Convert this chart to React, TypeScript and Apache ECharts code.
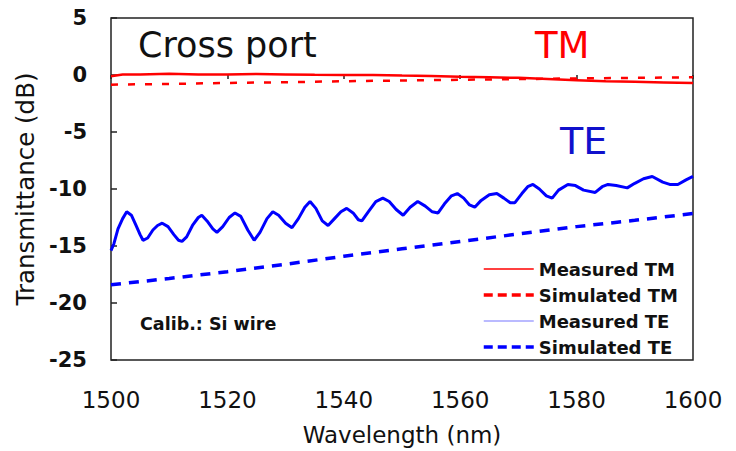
import React, { useEffect, useRef } from "react";
import * as echarts from "echarts";

// Wavelength (nm), Transmittance (dB)
const tmMeasured: [number, number][] = [
  [1500, -0.1], [1502, 0.05], [1505, 0.05], [1510, 0.1], [1515, 0.05], [1520, 0.05],
  [1525, 0.08], [1530, 0.05], [1535, 0.02], [1540, 0.0], [1545, 0.0], [1550, -0.05],
  [1555, -0.08], [1560, -0.15], [1565, -0.2], [1570, -0.25], [1575, -0.35], [1580, -0.45],
  [1585, -0.55], [1590, -0.6], [1595, -0.65], [1600, -0.7],
];

const tmSimulated: [number, number][] = [
  [1500, -0.85], [1510, -0.78], [1520, -0.7], [1530, -0.63], [1540, -0.55], [1550, -0.48],
  [1560, -0.42], [1570, -0.36], [1580, -0.3], [1590, -0.25], [1600, -0.2],
];

const teMeasured: [number, number][] = [
  [1500.0, -15.4], [1500.5, -14.8], [1501.2, -13.5], [1502.0, -12.6], [1502.7, -12.0],
  [1503.5, -12.3], [1504.3, -13.2], [1505.0, -14.0], [1505.5, -14.5], [1506.3, -14.3],
  [1507.2, -13.6], [1508.0, -13.2], [1508.8, -13.0], [1509.8, -13.3], [1510.8, -14.0],
  [1511.6, -14.5], [1512.2, -14.6], [1513.0, -14.2], [1514.0, -13.2], [1515.0, -12.5],
  [1515.6, -12.3], [1516.5, -12.8], [1517.5, -13.5], [1518.2, -13.8], [1519.2, -13.3],
  [1520.3, -12.5], [1521.3, -12.1], [1522.3, -12.4], [1523.5, -13.6], [1524.6, -14.5],
  [1525.6, -13.8], [1526.8, -12.6], [1527.8, -12.0], [1528.8, -12.3], [1530.0, -13.0],
  [1531.1, -13.4], [1532.2, -12.6], [1533.3, -11.6], [1534.2, -11.1], [1535.2, -11.7],
  [1536.3, -12.8], [1537.3, -13.2], [1538.4, -12.6], [1539.5, -12.0], [1540.5, -11.7],
  [1541.6, -12.1], [1542.5, -12.7], [1543.1, -12.8], [1544.2, -12.0], [1545.5, -11.1],
  [1546.7, -10.8], [1547.8, -11.1], [1549.0, -11.8], [1550.2, -12.3], [1551.4, -11.6],
  [1552.7, -11.1], [1554.0, -11.5], [1555.2, -12.0], [1556.2, -12.1], [1557.3, -11.3],
  [1558.5, -10.6], [1559.5, -10.4], [1560.6, -10.8], [1561.6, -11.4], [1562.5, -11.6],
  [1563.6, -11.0], [1565.0, -10.5], [1566.3, -10.4], [1567.5, -10.8], [1568.6, -11.2],
  [1569.4, -11.2], [1570.6, -10.4], [1571.6, -9.8], [1572.5, -9.6], [1573.6, -10.0],
  [1574.8, -10.6], [1575.8, -10.8], [1576.9, -10.1], [1578.5, -9.6], [1579.8, -9.7],
  [1581.2, -10.1], [1583.2, -10.3], [1584.4, -9.8], [1585.4, -9.6], [1586.8, -9.7],
  [1588.7, -9.9], [1590.0, -9.5], [1591.5, -9.1], [1593.0, -8.9], [1594.8, -9.4],
  [1596.0, -9.6], [1597.4, -9.6], [1598.8, -9.2], [1600.0, -8.9],
];

const teSimulated: [number, number][] = [
  [1500, -18.4], [1510, -17.85], [1520, -17.25], [1530, -16.6], [1540, -15.9], [1550, -15.25],
  [1560, -14.6], [1570, -13.95], [1580, -13.3], [1590, -12.75], [1600, -12.15],
];

const seriesNames = ["Measured TM", "Simulated TM", "Measured TE", "Simulated TE"];
const xTicks = { min: 1500, max: 1600, interval: 20 };
const yTicks = { min: -25, max: 5, interval: 5 };

const FONT = "DejaVu Sans";

export default function App() {
  const ref = useRef<HTMLDivElement>(null);
  useEffect(() => {
    if (!ref.current) return;
    const chart = echarts.init(ref.current, undefined, { renderer: "svg" });
    const hidden = { opacity: 0, borderWidth: 0 };
    chart.setOption({
      animation: false,
      backgroundColor: "#ffffff",
      grid: {
        left: 111,
        right: 43,
        top: 18,
        bottom: 91,
        show: true,
        borderColor: "#222",
        borderWidth: 1.5,
      },
      xAxis: {
        type: "value",
        min: xTicks.min,
        max: xTicks.max,
        interval: xTicks.interval,
        name: "Wavelength (nm)",
        nameLocation: "middle",
        nameGap: 63,
        nameTextStyle: { fontFamily: FONT, fontSize: 23, color: "#111" },
        axisLine: { show: false },
        axisTick: { show: true, inside: false, length: 4, lineStyle: { color: "#222", width: 1.5 } },
        axisLabel: { fontFamily: FONT, fontSize: 23, color: "#111", margin: 28, formatter: (v: number) => String(v) },
        splitLine: { show: false },
      },
      yAxis: {
        type: "value",
        min: yTicks.min,
        max: yTicks.max,
        interval: yTicks.interval,
        name: "Transmittance (dB)",
        nameLocation: "middle",
        nameGap: 55,
        nameTextStyle: { fontFamily: FONT, fontSize: 24.5, color: "#111" },
        axisLine: { show: false },
        axisTick: { show: true, inside: true, length: 6, lineStyle: { color: "#222", width: 1.5 } },
        axisLabel: { fontFamily: FONT, fontSize: 21, fontWeight: "bold", color: "#111", margin: 24 },
        splitLine: { show: false },
      },
      legend: {
        orient: "vertical",
        left: 477,
        top: 254,
        itemWidth: 50,
        itemHeight: 14,
        itemGap: 6,
        selectedMode: false,
        textStyle: { fontFamily: FONT, fontSize: 18, fontWeight: "bold", color: "#111", lineHeight: 20 },
        data: [
          { name: seriesNames[0], itemStyle: hidden, lineStyle: { width: 1.5, color: "#ff0000", type: "solid", opacity: 1 } },
          { name: seriesNames[1], itemStyle: hidden, lineStyle: { width: 3.5, color: "#ff0000", type: [9, 5], opacity: 1 } },
          { name: seriesNames[2], itemStyle: hidden, lineStyle: { width: 1.2, color: "#7777ff", type: "solid", opacity: 1 } },
          { name: seriesNames[3], itemStyle: hidden, lineStyle: { width: 3.5, color: "#0000ff", type: [9, 5], opacity: 1 } },
        ],
      },
      graphic: [
        { type: "text", left: 138, top: 27, style: { text: "Cross port", font: `35px '${FONT}'`, fill: "#111" } },
        { type: "text", left: 535, top: 27, style: { text: "TM", font: `37px '${FONT}'`, fill: "#ff0000" } },
        { type: "text", left: 560, top: 122, style: { text: "TE", font: `38px '${FONT}'`, fill: "#1010cc" } },
        { type: "text", left: 140, top: 315, style: { text: "Calib.: Si wire", font: `bold 17.5px '${FONT}'`, fill: "#111" } },
      ],
      series: [
        {
          name: seriesNames[0], type: "line", data: tmMeasured, showSymbol: false, symbol: "none",
          lineStyle: { color: "#ff0000", width: 2.5 }, itemStyle: { color: "#ff0000" },
        },
        {
          name: seriesNames[1], type: "line", data: tmSimulated, showSymbol: false, symbol: "none",
          lineStyle: { color: "#ff0000", width: 2.5, type: [7, 10] }, itemStyle: { color: "#ff0000" },
        },
        {
          name: seriesNames[2], type: "line", data: teMeasured, showSymbol: false, symbol: "none",
          lineStyle: { color: "#0000ff", width: 3 }, itemStyle: { color: "#0000ff" },
        },
        {
          name: seriesNames[3], type: "line", data: teSimulated, showSymbol: false, symbol: "none",
          lineStyle: { color: "#0000ff", width: 3.5, type: [10, 8] }, itemStyle: { color: "#0000ff" },
        },
      ],
    });
    return () => chart.dispose();
  }, []);
  return <div ref={ref} style={{ width: 736, height: 451, position: "absolute", left: 0, top: 0 }} />;
}
